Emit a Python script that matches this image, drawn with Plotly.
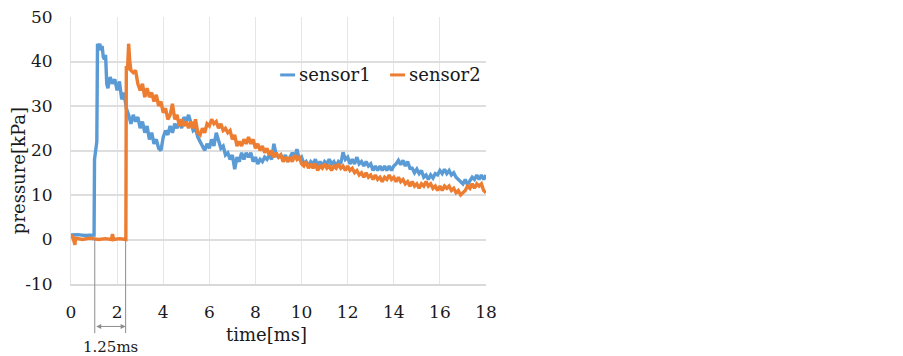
import plotly.graph_objects as go

# ---------------- data ----------------
x_ticks = [0, 2, 4, 6, 8, 10, 12, 14, 16, 18]
x_tick_labels = ["0", "2", "4", "6", "8", "10", "12", "14", "16", "18"]
y_ticks = [-10, 0, 10, 20, 30, 40, 50]
y_tick_labels = ["-10", "0", "10", "20", "30", "40", "50"]

# shared sampling times of the noisy decay part (ms)
t_tail = [
    1.6, 1.7, 1.8, 1.9, 2.0, 2.1, 2.2, 2.3, 2.4, 2.5,
    2.6, 2.7, 2.8, 2.9, 3.0, 3.1, 3.2, 3.3, 3.4, 3.5,
    3.6, 3.7, 3.8, 3.9, 4.0, 4.1, 4.2, 4.3, 4.4, 4.5,
    4.6, 4.7, 4.8, 4.9, 5.0, 5.1, 5.2, 5.3, 5.4, 5.5,
    5.6, 5.7, 5.8, 5.9, 6.0, 6.1, 6.2, 6.3, 6.4, 6.5,
    6.6, 6.7, 6.8, 6.9, 7.0, 7.1, 7.2, 7.3, 7.4, 7.5,
    7.6, 7.7, 7.8, 7.9, 8.0, 8.1, 8.2, 8.3, 8.4, 8.5,
    8.6, 8.7, 8.8, 8.9, 9.0, 9.1, 9.2, 9.3, 9.4, 9.5,
    9.6, 9.7, 9.8, 9.9, 10.0, 10.1, 10.2, 10.3, 10.4, 10.5,
    10.6, 10.7, 10.8, 10.9, 11.0, 11.1, 11.2, 11.3, 11.4, 11.5,
    11.6, 11.7, 11.8, 11.9, 12.0, 12.1, 12.2, 12.3, 12.4, 12.5,
    12.6, 12.7, 12.8, 12.9, 13.0, 13.1, 13.2, 13.3, 13.4, 13.5,
    13.6, 13.7, 13.8, 13.9, 14.0, 14.1, 14.2, 14.3, 14.4, 14.5,
    14.6, 14.7, 14.8, 14.9, 15.0, 15.1, 15.2, 15.3, 15.4, 15.5,
    15.6, 15.7, 15.8, 15.9, 16.0, 16.1, 16.2, 16.3, 16.4, 16.5,
    16.6, 16.7, 16.8, 16.9, 17.0, 17.1, 17.2, 17.3, 17.4, 17.5,
    17.6, 17.7, 17.8, 17.9, 18.0,
]

# sensor1: baseline and shock arrival
t1_head = [0.0, 0.3, 0.6, 0.9, 1.0, 1.02, 1.08, 1.12, 1.15, 1.2, 1.25, 1.3,
           1.35, 1.4, 1.45, 1.5, 1.55]
p1_head = [1.0, 1.1, 0.9, 1.0, 1.0, 18.0, 20.0, 22.0, 44.0, 43.0, 44.0, 42.5,
           43.5, 41.0, 40.5, 41.5, 35.0]
p1_tail = [
    34, 36.5, 35, 36, 33.5, 35.5, 31.5, 33, 29.5, 28,
    26, 28, 26.5, 27.5, 25, 26.5, 24, 25.5, 22.5, 24,
    21.5, 22.5, 20.5, 20, 23, 24.5, 23.5, 25.5, 24, 26,
    25, 26.5, 25, 27.5, 26.5, 28, 26, 24.5, 25, 23,
    22, 21, 20, 21.5, 20.5, 22.5, 21, 24, 22, 20.5,
    21, 19, 19.5, 18, 19, 15.8, 18.5, 17.5, 19.5, 18,
    19.5, 18.5, 19.5, 17.5, 18.5, 17, 18, 17.5, 18.5, 18,
    19, 18, 21.5, 19, 18.5, 19, 18, 19, 17.5, 18.5,
    19.5, 18.5, 20.3, 18, 18.5, 17, 17.5, 16.5, 17.5, 17,
    18, 16.5, 17.5, 16.5, 17.5, 17, 18, 17, 17.5, 16.5,
    17.5, 17, 19.6, 18, 18.5, 17, 18, 17, 18.5, 17,
    17.5, 16.5, 17.5, 16.5, 17, 15.5, 16.5, 15.5, 16.5, 15.5,
    16.5, 15.5, 16.5, 15.5, 16.5, 17, 17.8, 16.8, 17.8, 16.5,
    17.5, 16, 16, 15, 15.8, 14.8, 15.5, 14, 14.5, 13.5,
    14.5, 13.8, 14.8, 14.5, 15.5, 14.8, 15.8, 14.8, 15.5, 14.5,
    15, 14, 13.5, 13, 12.5, 13.5, 12.2, 13.2, 14, 13.5,
    14.5, 13.5, 14.5, 13.5, 14.5,
]

# sensor2: baseline and shock arrival
t2_head = [0.0, 0.1, 0.17, 0.2, 0.5, 0.8, 1.2, 1.5, 1.75, 1.8, 1.85, 2.1,
           2.38, 2.4, 2.45, 2.5, 2.55]
p2_head = [1.0, 0.2, -1.2, 0.3, 0.0, 0.3, 0.0, 0.2, 0.0, 1.2, 0.0, 0.2,
           0.0, 39.0, 38.0, 44.0, 40.0]
p2_tail = [
    38, 37.5, 38, 35, 33.5, 35, 32, 34, 32, 33,
    31, 32.5, 30, 31, 28.5, 29.5, 27, 28, 30.5, 27,
    28, 25.5, 27, 25.5, 26.5, 25, 26.5, 25, 27, 24,
    23.5, 25, 24, 26, 25.5, 27, 26, 26.5, 25, 26,
    24.5, 25, 24, 24.5, 22.5, 23.5, 21, 22, 21, 22.5,
    21.5, 23, 21.5, 22.5, 20.5, 21.5, 20, 21, 19.5, 20.5,
    19, 20, 18.5, 19.5, 18.5, 19, 17.5, 18.5, 17.5, 18.5,
    17.5, 19, 18, 18.5, 17, 16.5, 17.5, 16, 17, 16,
    17, 15.5, 16.5, 16, 17, 16, 16.5, 15.5, 16.5, 16,
    17, 16, 16.5, 15.5, 16.5, 15.5, 16, 15, 15.5, 14.5,
    15, 14, 15, 14, 14.5, 13.5, 14.5, 13.5, 14, 13,
    14, 13.5, 14.5, 13.5, 14, 13, 14, 13, 13.5, 12.5,
    13, 12, 13, 12, 12.5, 11.5, 12.5, 12, 13, 12,
    12.5, 11.5, 12, 11, 12, 11, 12, 11.5, 12, 11,
    11.5, 10.5, 11, 10, 10.5, 11, 12, 11.5, 12.5, 11.5,
    12.5, 12, 12.5, 11, 10.5,
]

series_names = ["sensor1", "sensor2"]
series_colors = ["#5B9BD5", "#ED7D31"]

# dimension annotation: arrival times and label
arrival_times = [1.03, 2.37]
delay_label = "1.25ms"

x_range = [0, 18]
y_range = [-10, 50]

# ---------------- figure ----------------
t1 = t1_head + t_tail
p1 = p1_head + p1_tail
t2 = t2_head + t_tail[10:]
p2 = p2_head + p2_tail

FONT = "DejaVu Serif"
TXT = "#1a1a1a"

fig = go.Figure()
fig.add_trace(go.Scatter(x=t1, y=p1, mode="lines", name=series_names[0],
                         line=dict(color=series_colors[0], width=3.4),
                         showlegend=False))
fig.add_trace(go.Scatter(x=t2, y=p2, mode="lines", name=series_names[1],
                         line=dict(color=series_colors[1], width=3.4),
                         showlegend=False))

def ypaper(v):
    return (v - y_range[0]) / (y_range[1] - y_range[0])

shapes = []
for xa in arrival_times:
    shapes.append(dict(type="line", xref="x", yref="paper", x0=xa, x1=xa,
                       y0=ypaper(0), y1=-0.184,
                       line=dict(color="#8c8c8c", width=1)))

# manual legend (short line samples)
leg_y = 0.783
leg_items = [(0.504, 0.540, 0.545), (0.769, 0.805, 0.810)]
for (xs0, xs1, xt), name, col in zip(leg_items, series_names, series_colors):
    shapes.append(dict(type="line", xref="paper", yref="paper", x0=xs0, x1=xs1,
                       y0=leg_y, y1=leg_y, line=dict(color=col, width=3)))

annotations = []
for (xs0, xs1, xt), name in zip(leg_items, series_names):
    annotations.append(dict(xref="paper", yref="paper", x=xt, y=leg_y,
                            xanchor="left", yanchor="middle", text=name,
                            showarrow=False,
                            font=dict(family=FONT, size=18, color=TXT)))

# double-headed arrow between arrivals
annotations.append(dict(xref="x", yref="paper", x=arrival_times[1], y=-0.159,
                        axref="x", ayref="pixel", ax=arrival_times[0], ay=0,
                        text="", showarrow=True, arrowside="end+start",
                        arrowhead=2, arrowsize=1, arrowwidth=1,
                        arrowcolor="#8c8c8c"))
annotations.append(dict(xref="x", yref="paper",
                        x=(arrival_times[0] + arrival_times[1]) / 2, y=-0.235,
                        xanchor="center", yanchor="middle", text=delay_label,
                        showarrow=False,
                        font=dict(family=FONT, size=15, color=TXT)))

# axis titles
annotations.append(dict(xref="paper", yref="paper", x=0.471, y=-0.19,
                        xanchor="center", yanchor="middle", text="time[ms]",
                        showarrow=False,
                        font=dict(family=FONT, size=18, color=TXT)))
annotations.append(dict(xref="paper", yref="paper", x=-0.128, y=0.426,
                        xanchor="center", yanchor="middle", text="pressure[kPa]",
                        textangle=-90, showarrow=False,
                        font=dict(family=FONT, size=18, color=TXT)))

fig.update_layout(
    width=903, height=356,
    margin=dict(l=71, r=417, t=7, b=72),
    paper_bgcolor="white", plot_bgcolor="white",
    showlegend=False,
    shapes=shapes,
    annotations=annotations,
    font=dict(family=FONT, size=17, color=TXT),
)
fig.update_xaxes(range=x_range, tickvals=x_ticks, ticktext=x_tick_labels,
                 showgrid=True, gridcolor="#e6e6e6", gridwidth=1,
                 zeroline=False, showline=True, linecolor="#d9d9d9",
                 linewidth=2, mirror=False, ticks="", ticklabelstandoff=12,
                 ticklabeloverflow="allow",
                 tickfont=dict(family=FONT, size=17, color=TXT))
fig.update_yaxes(range=y_range, tickvals=y_ticks, ticktext=y_tick_labels,
                 showgrid=True, gridcolor="#dedede", gridwidth=1.5,
                 zeroline=False, showline=True, linecolor="#e3e3e3",
                 linewidth=1, ticks="", ticklabelstandoff=14,
                 ticklabeloverflow="allow",
                 tickfont=dict(family=FONT, size=17, color=TXT))

fig.write_html("out.html",
               config={"displayModeBar": False},
               post_script="document.body.style.margin='0';"
                           "document.body.style.overflow='hidden';")
